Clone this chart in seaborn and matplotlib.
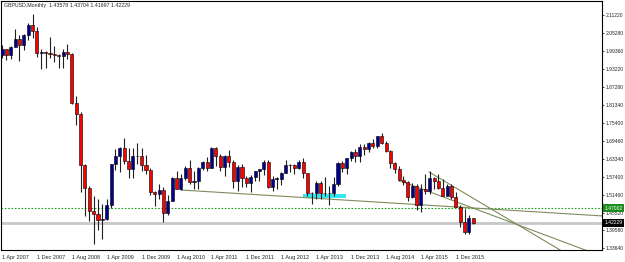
import numpy as np
import pandas as pd
import seaborn as sns
import matplotlib
matplotlib.use("Agg")
import matplotlib.pyplot as plt
from matplotlib.patches import Rectangle
from matplotlib.transforms import blended_transform_factory

# GBPUSD monthly bars, Apr 2007 .. Apr 2016
first_month = "2007-04"
opens = [1.9780, 1.9995, 1.9790, 2.0070, 2.0320, 2.0140, 2.0445, 2.0800, 2.0580,
         1.9850, 1.9890, 1.9870, 1.9840, 1.9790, 1.9770, 1.9900, 1.9810, 1.8200, 1.7830, 1.6150, 1.5370,
         1.4590, 1.4500, 1.4300, 1.4330, 1.4790, 1.6160, 1.6450, 1.6700, 1.6260, 1.5990, 1.6440, 1.6440,
         1.6150, 1.5980, 1.5230, 1.5180, 1.5300, 1.4530, 1.4950, 1.5690, 1.5340, 1.5710, 1.6020, 1.5560,
         1.5600, 1.6020, 1.6250, 1.6040, 1.6700, 1.6440, 1.6060, 1.6430, 1.6250, 1.5590, 1.6080, 1.5690,
         1.5540, 1.5720, 1.5920, 1.5990, 1.6240, 1.5420, 1.5680, 1.5680, 1.5880, 1.6150, 1.6120, 1.6020,
         1.6250, 1.5860, 1.5190, 1.5190, 1.5530, 1.5190, 1.5210, 1.5210, 1.5500, 1.6190, 1.6040, 1.6370,
         1.6560, 1.6440, 1.6750, 1.6670, 1.6880, 1.6760, 1.7100, 1.6880, 1.6600, 1.6210, 1.5990, 1.5640,
         1.5580, 1.5060, 1.5430, 1.4820, 1.5350, 1.5280, 1.5710, 1.5620, 1.5360, 1.5120, 1.5430, 1.5060,
         1.4740, 1.4250, 1.3920, 1.43578]
highs = [2.0133, 2.0000, 2.0085, 2.0655, 2.0450, 2.0490, 2.0840, 2.1160, 2.0720,
         2.0000, 1.9920, 2.0395, 2.0090, 1.9820, 1.9980, 2.0160, 1.9850, 1.8420, 1.7910, 1.6180, 1.5430,
         1.5100, 1.5020, 1.4840, 1.5000, 1.6170, 1.6660, 1.6740, 1.7040, 1.6690, 1.6690, 1.6880, 1.6700,
         1.6460, 1.6030, 1.5280, 1.5520, 1.5390, 1.5130, 1.5730, 1.5950, 1.5830, 1.6100, 1.6300, 1.5920,
         1.6060, 1.6280, 1.6400, 1.6750, 1.6750, 1.6490, 1.6480, 1.6620, 1.6310, 1.6140, 1.6170, 1.5780,
         1.5790, 1.5950, 1.6010, 1.6290, 1.6300, 1.5770, 1.5750, 1.5910, 1.6310, 1.6180, 1.6170, 1.6310,
         1.6380, 1.5880, 1.5240, 1.5610, 1.5600, 1.5750, 1.5440, 1.5720, 1.6250, 1.6260, 1.6380, 1.6600,
         1.6670, 1.6820, 1.6820, 1.6900, 1.6990, 1.7110, 1.7190, 1.6920, 1.6640, 1.6250, 1.6100, 1.5780,
         1.5620, 1.5550, 1.5510, 1.5500, 1.5820, 1.5930, 1.5730, 1.5820, 1.5660, 1.5510, 1.5510, 1.5240,
         1.4810, 1.4670, 1.4460, 1.43704]
lows = [1.9700, 1.9640, 1.9660, 2.0050, 1.9580, 1.9965, 2.0280, 2.0370, 1.9710,
        1.9340, 1.9360, 1.9700, 1.9560, 1.9360, 1.9365, 1.9650, 1.8170, 1.7450, 1.5250, 1.4440, 1.4280,
        1.3500, 1.3980, 1.3660, 1.4320, 1.4690, 1.5980, 1.5900, 1.6160, 1.5710, 1.5700, 1.6160, 1.5940,
        1.5830, 1.5150, 1.4780, 1.5020, 1.4230, 1.4470, 1.4950, 1.5340, 1.5290, 1.5650, 1.5510, 1.5350,
        1.5340, 1.5960, 1.5940, 1.6020, 1.6100, 1.5950, 1.5780, 1.6060, 1.5380, 1.5270, 1.5420, 1.5420,
        1.5230, 1.5600, 1.5600, 1.5800, 1.5370, 1.5270, 1.5350, 1.5480, 1.5860, 1.5910, 1.5830, 1.6000,
        1.5700, 1.5100, 1.4830, 1.5000, 1.5000, 1.5120, 1.4810, 1.5100, 1.5430, 1.5890, 1.5850, 1.6280,
        1.6250, 1.6240, 1.6460, 1.6570, 1.6690, 1.6690, 1.6830, 1.6570, 1.6050, 1.5870, 1.5590, 1.5480,
        1.4950, 1.5030, 1.4630, 1.4560, 1.5170, 1.5170, 1.5330, 1.5330, 1.5110, 1.5090, 1.4990, 1.4730,
        1.4080, 1.3840, 1.3840, 1.41697]
closes = [1.9995, 1.9790, 2.0070, 2.0320, 2.0140, 2.0445, 2.0800, 2.0580, 1.9850,
          1.9890, 1.9870, 1.9840, 1.9790, 1.9770, 1.9900, 1.9810, 1.8200, 1.7830, 1.6150, 1.5370, 1.4590,
          1.4500, 1.4300, 1.4330, 1.4790, 1.6160, 1.6450, 1.6700, 1.6260, 1.5990, 1.6440, 1.6440, 1.6150,
          1.5980, 1.5230, 1.5180, 1.5300, 1.4530, 1.4950, 1.5690, 1.5340, 1.5710, 1.6020, 1.5560, 1.5600,
          1.6020, 1.6250, 1.6040, 1.6700, 1.6440, 1.6060, 1.6430, 1.6250, 1.5590, 1.6080, 1.5690, 1.5540,
          1.5720, 1.5920, 1.5990, 1.6240, 1.5420, 1.5680, 1.5680, 1.5880, 1.6150, 1.6120, 1.6020, 1.6250,
          1.5860, 1.5190, 1.5190, 1.5530, 1.5190, 1.5210, 1.5210, 1.5500, 1.6190, 1.6040, 1.6370, 1.6560,
          1.6440, 1.6750, 1.6670, 1.6880, 1.6760, 1.7100, 1.6880, 1.6600, 1.6210, 1.5990, 1.5640, 1.5580,
          1.5060, 1.5430, 1.4820, 1.5350, 1.5280, 1.5710, 1.5620, 1.5360, 1.5120, 1.5430, 1.5060, 1.4740,
          1.4250, 1.3920, 1.4370, 1.42229]

date_labels = ["1 Apr 2007", "1 Dec 2007", "1 Aug 2008", "1 Apr 2009", "1 Dec 2009",
               "1 Aug 2010", "1 Apr 2011", "1 Dec 2011", "1 Aug 2012", "1 Apr 2013",
               "1 Dec 2013", "1 Aug 2014", "1 Apr 2015", "1 Dec 2015"]
price_ticks = [2.11220, 2.05280, 1.99360, 1.93220, 1.87280, 1.81340, 1.75400,
               1.69460, 1.63340, 1.57400, 1.51460, 1.45520, 1.39580, 1.33640]

# chart objects: trend lines (bar index, price) drawn as rays, support box, levels
trend_a = ([41.0, 96.0], [1.5304, 1.4813])
trend_b = ([91.2, 110.0], [1.5610, 1.4591])
trend_c = ([97.85, 110.0], [1.5903, 1.4854])
box_bars = [68.9, 78.8]
box_prices = [1.5029, 1.5162]
level_green = 1.47002
bid = 1.42229
header = "GBPUSD,Monthly  1.43578 1.43704 1.41697 1.42229"

df = pd.DataFrame({"o": opens, "h": highs, "l": lows, "c": closes})
df["month"] = pd.date_range(first_month, periods=len(df), freq="MS")
df["x"] = np.arange(len(df))
up = df["c"] >= df["o"]

sns.set_style("white")
plt.rcParams["font.family"] = ["Liberation Sans", "DejaVu Sans"]

fig = plt.figure(figsize=(6.25, 2.62), dpi=100)
ax = fig.add_axes([1 / 625, 12 / 262, 601 / 625, 249 / 262])
x_lo, x_hi = -0.23, 137.49
ax.set_xlim(x_lo, x_hi)
ax.set_ylim(1.33096, 2.15874)

# background objects
ax.add_patch(Rectangle((box_bars[0], box_prices[0]), box_bars[1] - box_bars[0],
                       box_prices[1] - box_prices[0], color="#33E6F2", lw=0, zorder=1))
ax.axhline(bid, color="#C8C8C8", lw=2.0, zorder=1)
ax.axhline(level_green, color="#1FA01F", lw=0.8, ls=(0, (1.5, 1.5)), zorder=1.2)

# trend line rays
for tx, ty in [trend_a, trend_b, trend_c]:
    slope = (ty[1] - ty[0]) / (tx[1] - tx[0])
    ray = pd.DataFrame({"x": [tx[0], x_hi], "y": [ty[0], ty[0] + slope * (x_hi - tx[0])]})
    sns.lineplot(data=ray, x="x", y="y", ax=ax, color="#7D8C5C", lw=0.8, zorder=1.5)

# candles
ax.vlines(df["x"], df["l"], df["h"], color="#202020", lw=0.8, zorder=2)
body = (df["c"] - df["o"]).where((df["c"] - df["o"]).abs() > 0.0008, 0.0008)
ax.bar(df["x"][up], body[up], bottom=df["o"][up], width=0.7,
       color="#00008C", edgecolor="black", lw=0.4, zorder=3)
ax.bar(df["x"][~up], body[~up], bottom=df["o"][~up], width=0.7,
       color="#FF0000", edgecolor="black", lw=0.4, zorder=3)

# axes, ticks
for s in ax.spines.values():
    s.set_visible(True)
    s.set_color("black")
    s.set_linewidth(0.8)
ax.set_xticks(np.arange(0, 8 * len(date_labels), 8))
ax.set_xticklabels(date_labels, ha="left")
ax.yaxis.tick_right()
ax.set_yticks(price_ticks)
ax.set_yticklabels([f"{p:.5f}" for p in price_ticks])
ax.tick_params(axis="x", direction="out", length=2.5, width=0.6, pad=1, labelsize=4)
ax.tick_params(axis="y", direction="out", length=1.5, width=0.6, pad=1, labelsize=3.6)
ax.set_xlabel("")
ax.set_ylabel("")

# price tags
tr = blended_transform_factory(ax.transAxes, ax.transData)
for val, bg in [(level_green, "#1C8C1C"), (bid, "black")]:
    ax.text(1.004, val, f"{val:.5f}", transform=tr, fontsize=3.6, color="white",
            ha="left", va="center", clip_on=False, zorder=5,
            bbox=dict(boxstyle="square,pad=0.3", fc=bg, ec="none"))

fig.text(4 / 625, 1 - 6 / 262, header, fontsize=3.8, ha="left", va="center")

plt.savefig("out.png", dpi=100)
